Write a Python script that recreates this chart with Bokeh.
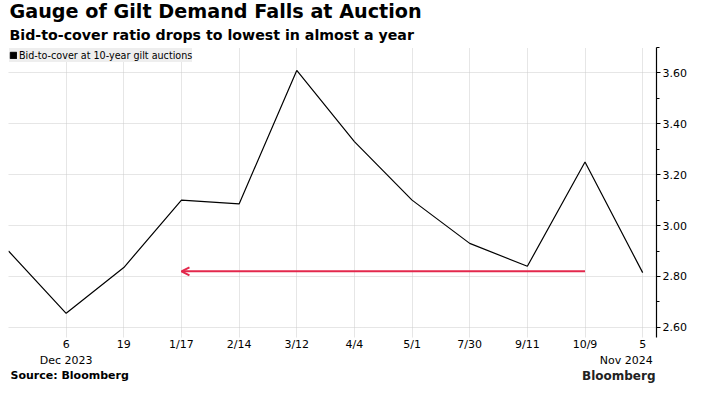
from bokeh.plotting import figure
from bokeh.layouts import column
from bokeh.models import (Range1d, FixedTicker, SingleIntervalTicker, Title, NumeralTickFormatter,
                          Arrow, OpenHead, Legend, LegendItem, Label)
from bokeh.embed import file_html
from bokeh.resources import INLINE

# data
tick_labels = ["", "6", "19", "1/17", "2/14", "3/12", "4/4", "5/1", "7/30", "9/11", "10/9", "5"]
year_labels = ["Dec 2023", "Nov 2024"]
year_label_ticks = [1, 11]
bid_to_cover = [2.90, 2.655, 2.835, 3.10, 3.085, 3.61, 3.33, 3.10, 2.93, 2.84, 3.25, 2.815]
arrow_from_idx = 10
arrow_to_idx = 3
arrow_level = 2.82
x = list(range(len(bid_to_cover)))

FONT = "DejaVu Sans"
W = 693
MAIN_H = 353
FOOT_H = 32
LEFT, RIGHT = 8, 37
X_END = 11.24

p = figure(width=W, height=MAIN_H, output_backend="svg", toolbar_location=None,
           x_range=Range1d(0, X_END), y_range=Range1d(2.56, 3.70),
           min_border_left=LEFT, min_border_right=RIGHT, min_border_top=0, min_border_bottom=14,
           y_axis_location="right")
p.outline_line_color = None
p.background_fill_color = "white"

# grid
p.xgrid.ticker = FixedTicker(ticks=x[1:])
p.xgrid.grid_line_color = "#cccccc"
p.xgrid.grid_line_dash = "1 1"
p.ygrid.grid_line_color = "#cccccc"
p.ygrid.grid_line_dash = "1 1"

# x axis
xa = p.xaxis[0]
xa.ticker = FixedTicker(ticks=x[1:])
xa.major_label_overrides = {i: lab for i, lab in enumerate(tick_labels) if lab}
xa.axis_line_color = None
xa.major_tick_line_color = None
xa.major_tick_out = 0
xa.major_tick_in = 0
xa.minor_tick_line_color = None
xa.minor_tick_out = 0
xa.major_label_text_font = FONT
xa.major_label_text_font_size = "11px"
xa.major_label_text_color = "black"
xa.major_label_standoff = 0

# y axis
ya = p.yaxis[0]
ya.ticker = SingleIntervalTicker(interval=0.2, num_minor_ticks=2)
p.ygrid.ticker = SingleIntervalTicker(interval=0.2)
ya.formatter = NumeralTickFormatter(format="0.00")
ya.axis_line_color = "black"
ya.axis_line_width = 1.2
ya.major_tick_line_color = "black"
ya.major_tick_out = 4
ya.major_tick_in = 0
ya.minor_tick_line_color = "black"
ya.minor_tick_out = 3
ya.minor_tick_in = 0
ya.major_label_text_font = FONT
ya.major_label_text_font_size = "11px"
ya.major_label_text_color = "black"
ya.major_label_standoff = 2

# line
p.line(x, bid_to_cover, line_color="black", line_width=1.2)
sq = p.quad(left=[float("nan")], right=[float("nan")], top=[float("nan")], bottom=[float("nan")],
            fill_color="black", line_color="black")

legend = Legend(items=[LegendItem(label="Bid-to-cover at 10-year gilt auctions", renderers=[sq])],
                location="top_left", background_fill_color="#eeeeee", background_fill_alpha=1,
                border_line_color=None, label_text_font=FONT, label_text_font_size="9.6px",
                label_text_color="black",
                glyph_width=8, glyph_height=8, label_standoff=2, padding=6, margin=1,
                spacing=0, label_height=14)
p.add_layout(legend)

# arrow
p.add_layout(Arrow(end=OpenHead(size=8, line_color="#e3284c", line_width=2),
                   x_start=arrow_from_idx, y_start=arrow_level,
                   x_end=arrow_to_idx, y_end=arrow_level,
                   line_color="#e3284c", line_width=2))

# titles
p.add_layout(Title(text="Bid-to-cover ratio drops to lowest in almost a year", text_font=FONT,
                   text_font_size="14.2px", text_font_style="bold", align="left",
                   text_color="black", offset=1, standoff=9), "above")
p.add_layout(Title(text="Gauge of Gilt Demand Falls at Auction", text_font=FONT,
                   text_font_size="19.2px", text_font_style="bold", align="left",
                   text_color="black", offset=1, standoff=-5), "above")

# footer: year labels (same x scale as the chart), source and logo text
foot = figure(width=W, height=FOOT_H, output_backend="svg", toolbar_location=None,
              x_range=Range1d(0, X_END), y_range=Range1d(0, FOOT_H),
              min_border_left=LEFT, min_border_right=RIGHT, min_border_top=0, min_border_bottom=0,
              x_axis_location=None, y_axis_location=None)
foot.outline_line_color = None
foot.grid.visible = False

for tick, lab, align, off in zip(year_label_ticks, year_labels, ["center", "right"], [0, 10]):
    foot.add_layout(Label(x=tick, y=25, y_units="screen", x_offset=off, text=lab,
                          text_align=align, text_baseline="middle", text_font=FONT,
                          text_font_size="11px", text_color="black"))
foot.add_layout(Label(x=2, y=10, x_units="screen", y_units="screen", text="Source: Bloomberg",
                      text_baseline="middle", text_font=FONT, text_font_size="11px",
                      text_font_style="bold", text_color="black"))
foot.add_layout(Label(x=W - LEFT - RIGHT - 1, y=10, x_units="screen", y_units="screen",
                      text="Bloomberg", text_align="right", text_baseline="middle",
                      text_font=FONT, text_font_size="12px", text_font_style="bold",
                      text_color="#222222"))

open("out.html", "w").write(file_html(column(p, foot, spacing=0), INLINE))
